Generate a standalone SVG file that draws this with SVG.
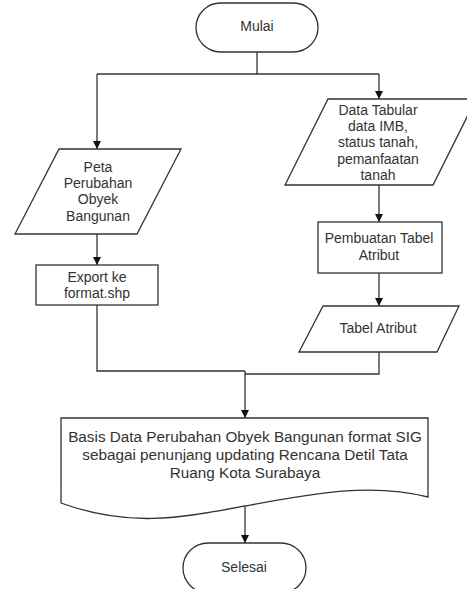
<svg xmlns="http://www.w3.org/2000/svg" width="467" height="589" viewBox="0 0 467 589">
<style>
.s{fill:#fff;stroke:#333;stroke-width:1.3}
.c{fill:none;stroke:#333;stroke-width:1.3}
text{font-family:"Liberation Sans",Arial,sans-serif;font-size:14px;fill:#333;text-anchor:middle}
.b{font-size:15.3px}
</style>
<defs>
<marker id="a" markerWidth="10" markerHeight="10" refX="9" refY="5" orient="auto" markerUnits="userSpaceOnUse">
<path d="M1,1 L9,5 L1,9 Z" fill="#111"/>
</marker>
</defs>
<rect width="467" height="589" fill="#fff"/>
<g id="connectors">
<path class="c" d="M257,52 V74"/>
<path class="c" d="M97,74 H379"/>
<path class="c" d="M97,74 V149" marker-end="url(#a)"/>
<path class="c" d="M379,74 V99" marker-end="url(#a)"/>
<path class="c" d="M97,234 V265" marker-end="url(#a)"/>
<path class="c" d="M379,185 V222" marker-end="url(#a)"/>
<path class="c" d="M379,273 V306" marker-end="url(#a)"/>
<path class="c" d="M97,305 V371 H245"/>
<path class="c" d="M379,352 V374 H245"/>
<path class="c" d="M245,371 V418" marker-end="url(#a)"/>
<path class="c" d="M245,507 V543" marker-end="url(#a)"/>
</g>
<g id="mulai">
<rect class="s" x="196" y="3" width="122" height="49" rx="24.5"/>
<text x="257" y="31">Mulai</text>
</g>
<g id="peta">
<polygon class="s" points="59,149 181,149 137,234 15,234"/>
<text x="98" y="172">Peta</text>
<text x="98" y="188">Perubahan</text>
<text x="98" y="204">Obyek</text>
<text x="98" y="221">Bangunan</text>
</g>
<g id="export">
<rect class="s" x="36" y="265" width="122" height="40"/>
<text x="97" y="282">Export ke</text>
<text x="97" y="298">format.shp</text>
</g>
<g id="data-tabular">
<polygon class="s" points="328,99 476,99 433,185 285,185"/>
<text x="378" y="115">Data Tabular</text>
<text x="378" y="131">data IMB,</text>
<text x="378" y="147">status tanah,</text>
<text x="378" y="164">pemanfaatan</text>
<text x="378" y="180">tanah</text>
</g>
<g id="pembuatan">
<rect class="s" x="318" y="222" width="124" height="51"/>
<text x="379" y="243">Pembuatan Tabel</text>
<text x="379" y="260">Atribut</text>
</g>
<g id="tabel-atribut">
<polygon class="s" points="323,306 459,306 437,352 299,352"/>
<text x="378" y="333">Tabel Atribut</text>
</g>
<g id="basis">
<path class="s" d="M61,418 H428 V497 C370,482 310,494 245,506 C180,518 130,528 61,503 Z"/>
<text class="b" x="245" y="442">Basis Data Perubahan Obyek Bangunan format SIG</text>
<text class="b" x="245" y="460">sebagai penunjang updating Rencana Detil Tata</text>
<text class="b" x="245" y="478">Ruang Kota Surabaya</text>
</g>
<g id="selesai">
<rect class="s" x="183" y="543" width="123" height="50" rx="25"/>
<text x="244" y="572">Selesai</text>
</g>
</svg>
